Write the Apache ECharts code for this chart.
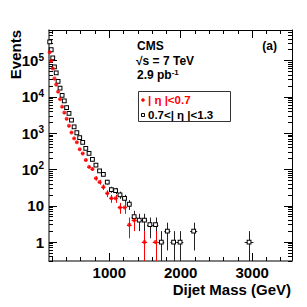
<!DOCTYPE html>
<html><head><meta charset="utf-8">
<script src="https://cdn.jsdelivr.net/npm/echarts@6/dist/echarts.min.js"></script>
<style>html,body{margin:0;padding:0;background:#fff}#c{width:307px;height:307px}</style>
</head><body><div id="c"></div>
<script>
// Dijet mass bin edges (GeV)
const binEdges = [156,176,197,220,244,270,296,325,354,386,419,453,489,526,565,606,649,693,740,788,838,890,944,1000,1058,1118,1181,1246,1313,1383,1455,1530,1607,1687,1770,1856,1945,2037,2132,2231,2332,2438,2546,2659,2775,2895,3019];
// |eta|<0.7 (red filled circles)
const innerCounts = [170000,98000,61000,32000,22000,14000,8700,5400,3700,2500,1600,1050,720,560,360,277,182,118,103,57,45,33,22,16,16,9,9,3,4,null,1,null,1,null,null,null,null,null,null,null,null,null,null,null,null,null];
// 0.7<|eta|<1.3 (black open squares)
const outerCounts = [330000,200000,120000,67000,46000,27000,17500,11000,7800,5100,3500,2300,1500,1030,760,560,380,277,190,132,92,73,45,28,26,20,16,11,5,4,4,3,3,1,2,1,1,null,2,null,null,null,null,null,null,1];
const xLabelValues = [1000,2000,3000];
const yLabelValues = [1,10,100,1000,10000,100000];
const innerName = '| \u03b7 |<0.7';
const outerName = '0.7<| \u03b7 |<1.3';

const X_MIN = 156, X_MAX = 3558, Y_MIN = 0.3, Y_MAX = 7e5;
const FONT = 'Liberation Sans';

const xMinor = [];
for (let v = 200; v < X_MAX; v += 200) xMinor.push(v);
const yMinor = [];
for (let e = -1; e <= 5; e++) for (let k = 1; k <= 9; k++) { const v = k * Math.pow(10, e); if (v >= Y_MIN && v <= Y_MAX) yMinor.push(v); }

function buildPoints(counts) {
  const pts = [], errs = [];
  counts.forEach((n, i) => {
    if (n === null) return;
    const lo = binEdges[i], hi = binEdges[i + 1], c = (lo + hi) / 2, s = Math.sqrt(n);
    pts.push([c, n]);
    errs.push([c, n, lo, hi, n - s, n + s]);
  });
  return { pts, errs };
}
const inner = buildPoints(innerCounts), outer = buildPoints(outerCounts);

function errRender(color) {
  return function (params, api) {
    const xc = api.value(0), y = api.value(1), x0 = api.value(2), x1 = api.value(3);
    const ylo = Math.max(api.value(4), Y_MIN), yhi = Math.min(api.value(5), Y_MAX);
    const p = api.coord([xc, y]), pl = api.coord([x0, y]), pr = api.coord([x1, y]);
    const pb = api.coord([xc, ylo]), pt = api.coord([xc, yhi]);
    const xx = Math.round(p[0]) + 0.5, yy = Math.round(p[1]) + 0.5;
    const style = { stroke: color, lineWidth: 1, fill: null };
    return { type: 'group', children: [
      { type: 'line', shape: { x1: pl[0], y1: yy, x2: pr[0], y2: yy }, style },
      { type: 'line', shape: { x1: xx, y1: pt[1], x2: xx, y2: pb[1] }, style }
    ]};
  };
}

function xAxisDef(pos, ticks, len, showLine, labels) {
  return {
    type: 'value', min: X_MIN, max: X_MAX, position: pos, gridIndex: 0,
    axisLine: { show: showLine, onZero: false, lineStyle: { color: pos === 'bottom' ? '#555' : '#000', width: pos === 'bottom' ? 1.5 : 1 } },
    axisTick: { show: true, inside: true, length: len, customValues: ticks, lineStyle: { color: '#000', width: 1 } },
    axisLabel: labels ? { show: true, customValues: xLabelValues, formatter: function (v) { return String(Math.round(v)); }, color: '#000', fontSize: 15, fontWeight: 'bold', fontFamily: FONT, margin: 4 } : { show: false },
    splitLine: { show: false }
  };
}
function yAxisDef(pos, ticks, len, showLine, labels) {
  return {
    type: 'log', logBase: 10, min: Y_MIN, max: Y_MAX, position: pos, gridIndex: 0,
    axisLine: { show: showLine, onZero: false, lineStyle: { color: pos === 'left' ? '#555' : '#000', width: pos === 'left' ? 1.5 : 1 } },
    axisTick: { show: true, inside: true, length: len, customValues: ticks, lineStyle: { color: '#000', width: 1 } },
    axisLabel: labels ? {
      show: true, customValues: yLabelValues, color: '#000', fontSize: 15, fontWeight: 'bold', fontFamily: FONT, margin: 5,
      formatter: function (v) {
        const e = Math.round(Math.log10(v));
        if (e === 0) return '1';
        if (e === 1) return '10';
        return '10{s|' + e + '}';
      },
      rich: { s: { fontSize: 10, fontWeight: 'bold', fontFamily: FONT, color: '#000', verticalAlign: 'top', padding: [0, 0, 7, 0] } }
    } : { show: false },
    splitLine: { show: false }
  };
}

const chart = echarts.init(document.getElementById('c'), null, { renderer: 'svg', width: 307, height: 307 });
chart.setOption({
  animation: false,
  backgroundColor: '#fff',
  grid: { left: 49, right: 15, top: 30, bottom: 46, containLabel: false },
  xAxis: [
    xAxisDef('bottom', xMinor, 4, true, true),
    xAxisDef('bottom', xLabelValues, 8, false, false),
    xAxisDef('top', xMinor, 4, true, false),
    xAxisDef('top', xLabelValues, 8, false, false)
  ],
  yAxis: [
    yAxisDef('left', yMinor, 4, true, true),
    yAxisDef('left', yLabelValues, 8, false, false),
    yAxisDef('right', yMinor, 4, true, false),
    yAxisDef('right', yLabelValues, 8, false, false)
  ],
  series: [
    { type: 'custom', name: 'outerErr', xAxisIndex: 0, yAxisIndex: 0, data: outer.errs, renderItem: errRender('#222'), encode: { x: [0, 2, 3], y: [1, 4, 5] }, z: 2, silent: true },
    { type: 'custom', name: 'innerErr', xAxisIndex: 0, yAxisIndex: 0, data: inner.errs, renderItem: errRender('#ff0000'), encode: { x: [0, 2, 3], y: [1, 4, 5] }, z: 2, silent: true },
    { type: 'scatter', name: outerName, xAxisIndex: 0, yAxisIndex: 0, data: outer.pts, symbol: 'rect', symbolSize: 3.8, itemStyle: { color: '#fff', borderColor: '#000', borderWidth: 1, opacity: 1 }, z: 3 },
    { type: 'scatter', name: innerName, xAxisIndex: 0, yAxisIndex: 0, data: inner.pts, symbol: 'circle', symbolSize: 4, itemStyle: { color: '#ff0000' }, z: 4 }
  ],
  graphic: [
    { type: 'text', x: 15, y: 30, rotation: Math.PI / 2, style: { text: 'Events', fontSize: 15, fontWeight: 'bold', fontFamily: FONT, fill: '#000', align: 'right', verticalAlign: 'middle' } },
    { type: 'text', x: 291, y: 289, style: { text: 'Dijet Mass (GeV)', fontSize: 15, fontWeight: 'bold', fontFamily: FONT, fill: '#000', align: 'right', verticalAlign: 'middle' } },
    { type: 'text', x: 137, y: 46, style: { text: 'CMS', fontSize: 12, fontWeight: 'bold', fontFamily: FONT, fill: '#000', align: 'left', verticalAlign: 'middle' } },
    { type: 'text', x: 136, y: 60.5, style: { text: '\u221as = 7 TeV', fontSize: 12, fontWeight: 'bold', fontFamily: FONT, fill: '#000', align: 'left', verticalAlign: 'middle' } },
    { type: 'text', x: 137, y: 74.5, style: { text: '2.9 pb{s|-1}', fontSize: 12, fontWeight: 'bold', fontFamily: FONT, fill: '#000', align: 'left', verticalAlign: 'middle',
        rich: { s: { fontSize: 8, fontWeight: 'bold', fontFamily: FONT, fill: '#000', verticalAlign: 'top', padding: [0, 0, 5, 0] } } } },
    { type: 'text', x: 277, y: 46, style: { text: '(a)', fontSize: 12, fontWeight: 'bold', fontFamily: FONT, fill: '#000', align: 'right', verticalAlign: 'middle' } },
    { type: 'rect', shape: { x: 138.5, y: 91.5, width: 92, height: 30 }, style: { stroke: '#333', fill: 'none', lineWidth: 1 } },
    { type: 'circle', shape: { cx: 143, cy: 100, r: 1.8 }, style: { fill: '#ff0000' } },
    { type: 'rect', shape: { x: 141.5, y: 113.5, width: 3, height: 3 }, style: { stroke: '#000', fill: '#fff', lineWidth: 1 } },
    { type: 'text', x: 148, y: 100, style: { text: innerName, fontSize: 11.5, fontWeight: 'bold', fontFamily: FONT, fill: '#ff0000', align: 'left', verticalAlign: 'middle' } },
    { type: 'text', x: 148, y: 115, style: { text: outerName, fontSize: 11.5, fontWeight: 'bold', fontFamily: FONT, fill: '#000', align: 'left', verticalAlign: 'middle' } }
  ]
});
</script>
</body></html>
